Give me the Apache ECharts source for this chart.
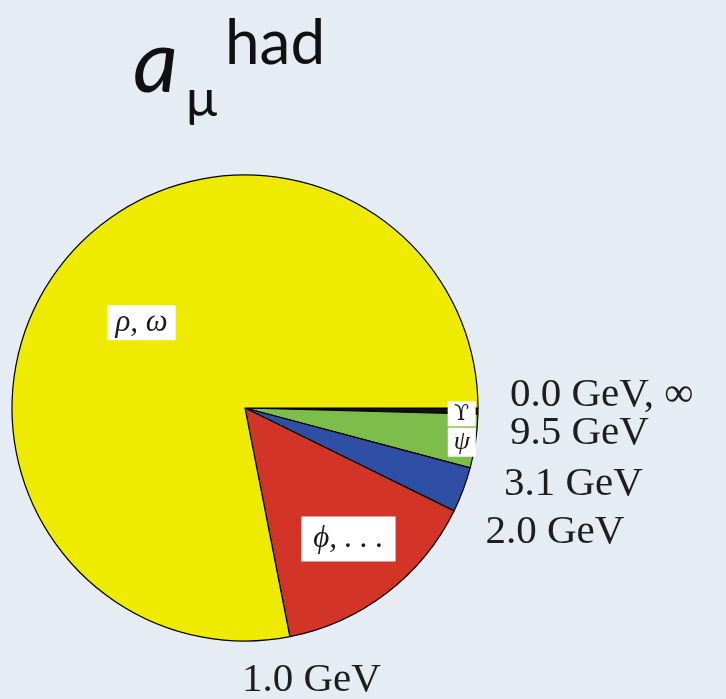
<!DOCTYPE html>
<html>
<head>
<meta charset="utf-8">
<script src="https://cdn.jsdelivr.net/npm/echarts@6/dist/echarts.min.js"></script>
<style>
  html, body { margin: 0; padding: 0; background: #e6ecf3; }
  #chart { width: 726px; height: 699px; }
</style>
</head>
<body>
<div id="chart"></div>
<script>
// Hadronic contribution split by energy region (pie angle in degrees, clockwise from 3 o'clock)
const regionNames = ['ϒ', 'ψ', '', 'ϕ, . . .', 'ρ, ω'];
const regionShares = [1.5, 13.4, 11.3, 52.7, 281.1];
// Energies at the slice boundaries, in order of increasing angle
const boundaryLabels = ['0.0 GeV, ∞', '9.5 GeV', '3.1 GeV', '2.0 GeV', '1.0 GeV'];

// ---- styling / layout ----
const sliceColors = ['#111111', '#7dbd4c', '#2f4fa5', '#d23428', '#eeea00'];
const CX = 245, CY = 408, R = 233;
// radius fraction for each slice label (null = no label)
const innerLabelRadius = [0.93, 0.94, null, 0.73, 0.575];
const innerLabelShift = [[0, 3], [0, 3], [0, 0], [0, -4], [0, 0]];
// [extra radius, dx, dy, align] for each boundary label
const boundaryLayout = [
  [32, 0, -13, 'left'],
  [32, 0, 18, 'left'],
  [35, 0, 7, 'left'],
  [35, 0, 6, 'left'],
  [39, 14, 5, 'center']
];

const total = regionShares.reduce((a, b) => a + b, 0);
const toDeg = v => v / total * 360;
const cumulative = [0];
regionShares.forEach((v, i) => cumulative.push(cumulative[i] + toDeg(v)));
const polar = (deg, r) => {
  const a = deg * Math.PI / 180;
  return [CX + r * Math.cos(a), CY + r * Math.sin(a)];
};

const serifFont = '"Liberation Serif", "DejaVu Serif", serif';

const labelBox = {
  color: '#1a1a1a',
  fontFamily: serifFont,
  fontStyle: 'italic',
  backgroundColor: '#ffffff'
};
const labelStyles = [
  Object.assign({}, labelBox, { fontFamily: '"DejaVu Serif", serif', fontSize: 22, fontStyle: 'normal', width: 22, align: 'center', lineHeight: 24, padding: [1, 3, 0, 3] }),
  Object.assign({}, labelBox, { fontSize: 26, width: 22, align: 'center', lineHeight: 28, padding: [0, 3, 1, 3] }),
  { show: false },
  Object.assign({}, labelBox, { fontSize: 31, lineHeight: 31, padding: [7, 12, 7, 12] }),
  Object.assign({}, labelBox, { fontSize: 31, lineHeight: 31, padding: [2, 8, 2, 8] })
];

const data = regionShares.map((v, i) => ({
  name: regionNames[i],
  value: v,
  itemStyle: { color: sliceColors[i] },
  label: Object.assign({ show: innerLabelRadius[i] != null }, labelStyles[i])
}));

const graphics = [];
// title: a_mu^had
graphics.push(
  { type: 'text', x: 133, y: 64, style: { text: 'a', font: 'italic 88px Lato', fill: '#111', verticalAlign: 'middle' } },
  { type: 'text', x: 186, y: 99, style: { text: 'μ', font: '52px Lato', fill: '#111', verticalAlign: 'middle' } },
  { type: 'text', x: 225, y: 44, style: { text: 'had', font: '62px Lato', fill: '#111', verticalAlign: 'middle' } }
);
boundaryLabels.forEach((t, i) => {
  const [dr, dx, dy, align] = boundaryLayout[i];
  const p = polar(cumulative[i], R + dr);
  graphics.push({
    type: 'text',
    x: p[0] + dx,
    y: p[1] + dy,
    style: {
      text: t,
      font: '41px ' + serifFont,
      fill: '#1e1e1e',
      align: align,
      verticalAlign: 'middle'
    }
  });
});

const chart = echarts.init(document.getElementById('chart'), null, { renderer: 'canvas' });
chart.setOption({
  backgroundColor: '#e6ecf3',
  animation: false,
  series: [{
    type: 'pie',
    center: [CX, CY],
    radius: R,
    startAngle: 0,
    clockwise: true,
    avoidLabelOverlap: false,
    silent: true,
    itemStyle: { borderColor: '#000', borderWidth: 1.2 },
    label: { position: 'inside' },
    labelLine: { show: false },
    labelLayout: params => {
      const i = params.dataIndex;
      if (innerLabelRadius[i] == null) return {};
      const mid = (cumulative[i] + cumulative[i + 1]) / 2;
      const p = polar(mid, R * innerLabelRadius[i]);
      return { x: p[0] + innerLabelShift[i][0], y: p[1] + innerLabelShift[i][1] };
    },
    data: data
  }],
  graphic: graphics
});
</script>
</body>
</html>
